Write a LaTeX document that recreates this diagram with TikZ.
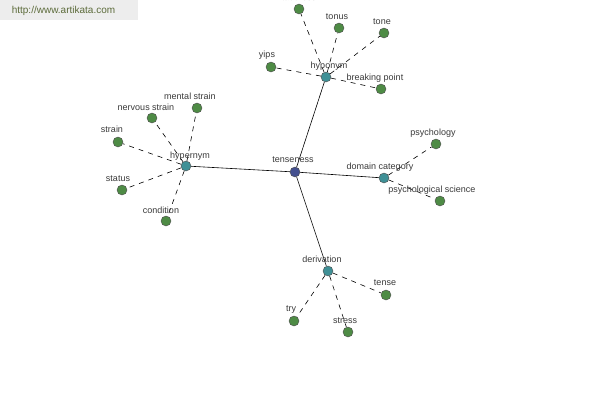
\documentclass[tikz,border=0pt]{standalone}
\usepackage{fontspec}
\setmainfont{Liberation Sans}
\definecolor{leafgreen}{HTML}{4E8B45}
\definecolor{hubteal}{HTML}{3F9096}
\definecolor{rootblue}{HTML}{44508F}
\definecolor{txtgray}{HTML}{3A3A3A}
\definecolor{urlgreen}{HTML}{5C6B3A}
\tikzset{
  leaf/.style={circle,draw=black!70,fill=leafgreen,inner sep=0pt,minimum size=10pt},
  hub/.style={circle,draw=black!70,fill=hubteal,inner sep=0pt,minimum size=10pt},
  root/.style={circle,draw=black!70,fill=rootblue,inner sep=0pt,minimum size=10pt},
  lbl/.style={text=txtgray,font=\fontsize{9}{10}\selectfont,inner sep=0pt},
  link/.style={black,line width=0.6pt},
  dlink/.style={black,line width=0.6pt,dash pattern=on 5pt off 5pt}
}
\begin{document}
\begin{tikzpicture}[x=1pt,y=-1pt]
  \useasboundingbox (0,0) rectangle (600,400);
  \fill[white] (0,0) rectangle (600,400);
  % watermark
  \fill[black!7] (0,0) rectangle (138,20);
  \node[text=urlgreen,font=\fontsize{10}{11}\selectfont,inner sep=0pt] (url) at (63.5,11) {http://www.artikata.com};
  % centre and hubs
  \node[root] (tenseness) at (295,172) {};
  \node[hub] (hyponym) at (326,77) {};
  \node[hub] (hypernym) at (186,166) {};
  \node[hub] (domain) at (384,178) {};
  \node[hub] (derivation) at (328,271) {};
  % leaves
  \node[leaf] (tautness) at (299,9) {};
  \node[leaf] (tonus) at (339,28) {};
  \node[leaf] (tone) at (384,33) {};
  \node[leaf] (yips) at (271,67) {};
  \node[leaf] (breaking) at (381,89) {};
  \node[leaf] (mental) at (197,108) {};
  \node[leaf] (nervous) at (152,118) {};
  \node[leaf] (strain) at (118,142) {};
  \node[leaf] (status) at (122,190) {};
  \node[leaf] (condition) at (166,221) {};
  \node[leaf] (psychology) at (436,144) {};
  \node[leaf] (psysci) at (440,201) {};
  \node[leaf] (tense) at (386,295) {};
  \node[leaf] (try) at (294,321) {};
  \node[leaf] (stress) at (348,332) {};
  % connectors
  \foreach \h in {hyponym,hypernym,domain,derivation}
    \draw[link] (tenseness) -- (\h);
  \foreach \l in {tautness,tonus,tone,yips,breaking}
    \draw[dlink] (hyponym) -- (\l);
  \foreach \l in {mental,nervous,strain,status,condition}
    \draw[dlink] (hypernym) -- (\l);
  \foreach \l in {psychology,psysci}
    \draw[dlink] (domain) -- (\l);
  \foreach \l in {tense,try,stress}
    \draw[dlink] (derivation) -- (\l);
  % labels
  \node[lbl] (tenseness-l) at (293,160) {tenseness};
  \node[lbl] (hyponym-l) at (329,66) {hyponym};
  \node[lbl] (hypernym-l) at (190,156) {hypernym};
  \node[lbl] (domain-l) at (380,167) {domain category};
  \node[lbl] (derivation-l) at (322,259) {derivation};
  \node[lbl] (tautness-l) at (299,-2) {tautness};
  \node[lbl] (tonus-l) at (337,17) {tonus};
  \node[lbl] (tone-l) at (382,22) {tone};
  \node[lbl] (yips-l) at (267,55) {yips};
  \node[lbl] (breaking-l) at (375,78) {breaking point};
  \node[lbl] (mental-l) at (190,96) {mental strain};
  \node[lbl] (nervous-l) at (146,107) {nervous strain};
  \node[lbl] (strain-l) at (112,129) {strain};
  \node[lbl] (status-l) at (118,179) {status};
  \node[lbl] (condition-l) at (161,210) {condition};
  \node[lbl] (psychology-l) at (433,133) {psychology};
  \node[lbl] (psysci-l) at (432,190) {psychological science};
  \node[lbl] (tense-l) at (385,283) {tense};
  \node[lbl] (try-l) at (291,310) {try};
  \node[lbl] (stress-l) at (345,321) {stress};
\end{tikzpicture}
\end{document}
